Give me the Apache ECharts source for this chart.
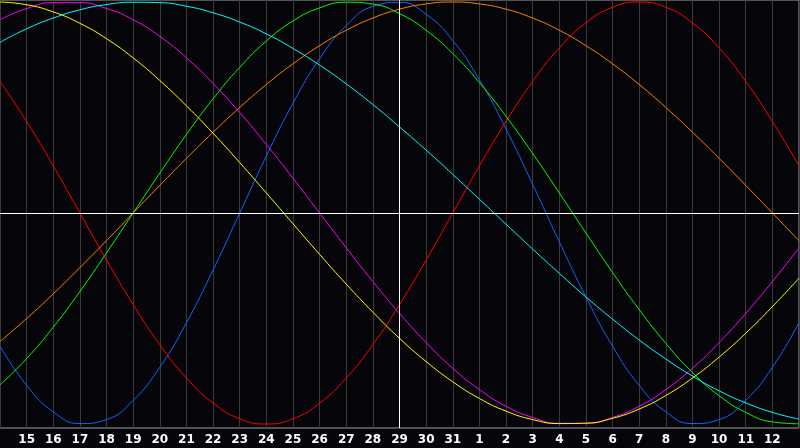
<!DOCTYPE html>
<html>
<head>
<meta charset="utf-8">
<script src="https://cdn.jsdelivr.net/npm/echarts@6/dist/echarts.min.js"></script>
<style>
html,body{margin:0;padding:0;background:#060509;}
#chart{width:800px;height:448px;}
</style>
</head>
<body>
<div id="chart"></div>
<script>
// Day labels for x positions 0..30 (14th of one month to 13th of the next)
const dayLabels = ['14','15','16','17','18','19','20','21','22','23','24','25','26','27','28','29','30','31','1','2','3','4','5','6','7','8','9','10','11','12','13'];
const todayIndex = 15;

// Values, one per day (index 0..30)
const physical = [-0.631,-0.817,-0.942,-0.998,-0.979,-0.888,-0.731,-0.520,-0.270,0,0.270,0.520,0.731,0.888,0.979,0.998,0.942,0.817,0.631,0.398,0.136,-0.136,-0.398,-0.631,-0.817,-0.942,-0.998,-0.979,-0.888,-0.731,-0.520];
const emotional = [0.624,0.434,0.223,0,-0.223,-0.434,-0.624,-0.782,-0.901,-0.975,-1,-0.975,-0.901,-0.782,-0.624,-0.434,-0.223,0,0.223,0.434,0.624,0.782,0.901,0.975,1,0.975,0.901,0.782,0.624,0.434,0.223];
const intellectual = [-0.815,-0.690,-0.541,-0.372,-0.189,0,0.189,0.372,0.541,0.690,0.815,0.910,0.972,0.999,0.990,0.945,0.866,0.756,0.618,0.458,0.282,0.095,-0.095,-0.282,-0.458,-0.618,-0.756,-0.866,-0.945,-0.990,-0.999];
const awareness = [-0.609,-0.5,-0.383,-0.259,-0.131,0,0.131,0.259,0.383,0.5,0.609,0.707,0.793,0.866,0.924,0.966,0.991,1,0.991,0.966,0.924,0.866,0.793,0.707,0.609,0.5,0.383,0.259,0.131,0,-0.131];
const spiritual = [0.809,0.873,0.924,0.963,0.988,0.999,0.997,0.980,0.949,0.905,0.849,0.780,0.701,0.612,0.514,0.408,0.298,0.183,0.065,-0.053,-0.171,-0.286,-0.398,-0.503,-0.602,-0.692,-0.773,-0.843,-0.900,-0.945,-0.977];
const intuitive = [0.916,0.969,0.997,0.997,0.969,0.916,0.837,0.736,0.614,0.476,0.325,0.165,0,-0.165,-0.325,-0.476,-0.614,-0.736,-0.837,-0.916,-0.969,-0.997,-0.997,-0.969,-0.916,-0.837,-0.736,-0.614,-0.476,-0.325,-0.165];
const aesthetic = [1.000,0.987,0.953,0.899,0.826,0.735,0.628,0.508,0.378,0.239,0.095,-0.051,-0.196,-0.337,-0.470,-0.594,-0.704,-0.800,-0.879,-0.939,-0.979,-0.998,-0.996,-0.973,-0.929,-0.865,-0.782,-0.683,-0.570,-0.444,-0.309];

const seriesDefs = [
  {name:'Physical', data:physical, color:'#1464ff'},
  {name:'Emotional', data:emotional, color:'#ff0000'},
  {name:'Intellectual', data:intellectual, color:'#00ff00'},
  {name:'Awareness', data:awareness, color:'#ff8000'},
  {name:'Intuitive', data:intuitive, color:'#ff00ff'},
  {name:'Aesthetic', data:aesthetic, color:'#ffff00'},
  {name:'Spiritual', data:spiritual, color:'#00ffff'}
];

const chart = echarts.init(document.getElementById('chart'), null, {renderer:'canvas'});

const series = seriesDefs.map(s => ({
  name: s.name,
  type: 'line',
  data: s.data.map((v,i) => [i, v]),
  smooth: true,
  showSymbol: false,
  symbol: 'none',
  silent: true,
  animation: false,
  lineStyle: {color: s.color, width: 1},
  itemStyle: {color: s.color},
  z: 3
}));

series.push({
  type: 'line',
  data: [],
  silent: true,
  animation: false,
  z: 5,
  markLine: {
    silent: true,
    symbol: 'none',
    animation: false,
    label: {show: false},
    lineStyle: {color: '#ffffff', width: 1, type: 'solid'},
    data: [{yAxis: 0}, {xAxis: todayIndex}]
  }
});

chart.setOption({
  backgroundColor: '#060509',
  animation: false,
  grid: {left: 0, right: 1, top: 0, bottom: 20, show: true, borderColor: '#a0a0a0', borderWidth: 1, backgroundColor: 'transparent'},
  xAxis: {
    type: 'value', min: 0, max: 30, interval: 1,
    axisLine: {show: false},
    axisTick: {show: false},
    splitLine: {show: true, lineStyle: {color: '#3a3a3a', width: 1}},
    axisLabel: {
      show: true, color: '#ffffff', fontWeight: 'bold', fontSize: 12,
      fontFamily: 'DejaVu Sans', margin: 6,
      showMinLabel: false, showMaxLabel: false,
      formatter: v => dayLabels[v] || ''
    }
  },
  yAxis: {
    type: 'value', min: -1.019, max: 1.0095,
    axisLine: {show: false}, axisTick: {show: false},
    axisLabel: {show: false}, splitLine: {show: false}
  },
  series: series
});
</script>
</body>
</html>
